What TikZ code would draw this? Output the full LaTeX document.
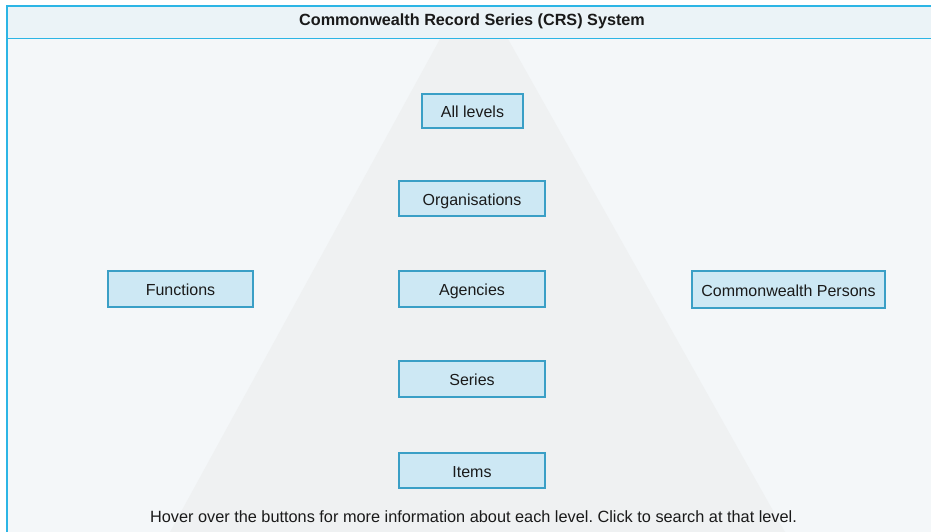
\documentclass[tikz,border=0pt]{standalone}
\usepackage{fontspec}
\setmainfont{Liberation Sans}
\frenchspacing
\definecolor{bgc}{HTML}{F4F7F9}
\definecolor{hdr}{HTML}{EBF3F7}
\definecolor{tri}{HTML}{EFF1F2}
\definecolor{frame}{HTML}{2CB5E5}
\definecolor{boxfill}{HTML}{CDE8F4}
\definecolor{boxline}{HTML}{3A9FC6}
\definecolor{txt}{HTML}{1A1A1A}
\tikzset{
  btn/.style={draw=boxline, line width=1.2pt, fill=boxfill, text=txt,
    font=\fontsize{16}{18}\selectfont, inner sep=0pt, anchor=center,
    text depth=0pt, text height=13pt},
  lbl/.style={text=txt, inner sep=0pt}
}
\begin{document}
\begin{tikzpicture}[x=1pt,y=-1pt]
\useasboundingbox (0,0) rectangle (931,532);
\fill[white] (0,0) rectangle (931,532);
% panel background
\fill[bgc] (7,6) rectangle (935,540);
% header band
\fill[hdr] (7,6) rectangle (935,38);
% pyramid
\fill[tri] (440,39) -- (508,39) -- (785,532) -- (170,532) -- cycle;
% frame
\draw[frame, line width=1.8pt] (7,540) -- (7,6) -- (935,6);
\draw[frame, line width=1.8pt] (7,38.5) -- (935,38.5);
% header text
\node[lbl, font=\bfseries\fontsize{16.2}{18}\selectfont] (title) at (472,21.5) {Commonwealth Record Series (CRS) System};
% buttons
\node[btn, minimum width=101pt, minimum height=34pt] (all) at (472.5,111) {All levels};
\node[btn, minimum width=146pt, minimum height=35pt] (org) at (472,198.5) {Organisations};
\node[btn, minimum width=146pt, minimum height=36pt] (ag) at (472,289) {Agencies};
\node[btn, minimum width=146pt, minimum height=36pt] (ser) at (472,379) {Series};
\node[btn, minimum width=146pt, minimum height=35pt] (it) at (472,470.5) {Items};
\node[btn, minimum width=145pt, minimum height=36pt] (fn) at (180.5,289) {Functions};
\node[btn, minimum width=193pt, minimum height=37pt] (cp) at (788.5,289.5) {Commonwealth Persons};
% footer
\node[lbl, font=\fontsize{16.3}{18}\selectfont] (foot) at (473.5,516.5) {Hover over the buttons for more information about each level. Click to search at that level.};
\end{tikzpicture}
\end{document}
